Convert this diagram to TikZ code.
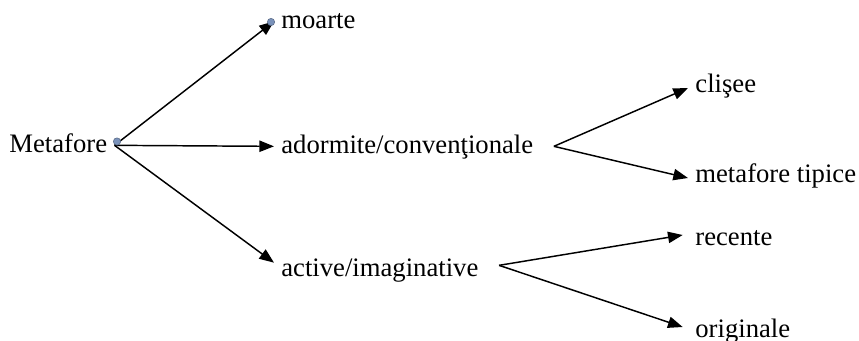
\documentclass[tikz,border=0pt]{standalone}
\usepackage{fontspec}
\setmainfont{Liberation Serif}
\usepackage{tikz}
\usetikzlibrary{arrows.meta}
\usetikzlibrary{positioning}
\definecolor{handleblue}{RGB}{122,146,186}
\tikzset{
    term/.style={
           anchor=base west,
           font=\fontsize{20}{24}\selectfont,
           inner xsep=5pt,
           inner ysep=0pt,
           text height=14pt,
           text depth=4pt,
           },
    handle/.style={
           circle,
           fill=handleblue,
           draw=handleblue!70!black, line width=0.4pt,
           inner sep=0pt,
           minimum size=5.5pt,
           },
}

\begin{document}
\begin{tikzpicture}[x=0.75pt,y=-0.75pt,->,>={Triangle[length=11pt,width=8.5pt]},line width=1.1pt]

 \useasboundingbox (0,0) rectangle (859,340);

 % root of the tree
 \node[term] (Metafore) at (2,152) {Metafore};

 % first level, one column at the same x
 \node[term] (Moarte) at (274,28) {moarte};
 \node[term] (Adormite) at (274,153) {adormite/convenţionale};
 \node[term] (Active) at (274,276) {active/imaginative};

 % second level
 \node[term] (Clisee) at (688,92) {clişee};
 \node[term] (Tipice) at (688,182) {metafore tipice};
 \node[term] (Recente) at (688,245) {recente};
 \node[term] (Originale) at (688,337) {originale};

 % where the forks of the second level start
 \coordinate (Adormite fork) at ([xshift=10pt]Adormite.east);
 \coordinate (Active fork) at ([xshift=10pt,yshift=3pt]Active.east);

 % draw the paths from the root
 \draw (Metafore.east) -- (Moarte.west);
 \draw (Metafore.east) -- (Adormite.west);
 \draw (Metafore.east) -- ([yshift=5pt]Active.west);

 % and the forks
 \draw (Adormite fork) -- ([yshift=-2pt]Clisee.west);
 \draw (Adormite fork) -- ([yshift=-2pt]Tipice.west);
 \draw (Active fork) -- ([xshift=-4pt,yshift=2.5pt]Recente.west);
 \draw (Active fork) -- ([xshift=-4pt,yshift=2.5pt]Originale.west);

 % the two small handles
 \node[handle] (Metafore handle) at (117,141.5) {};
 \node[handle] (Moarte handle) at (271,22) {};

\end{tikzpicture}
\end{document}
